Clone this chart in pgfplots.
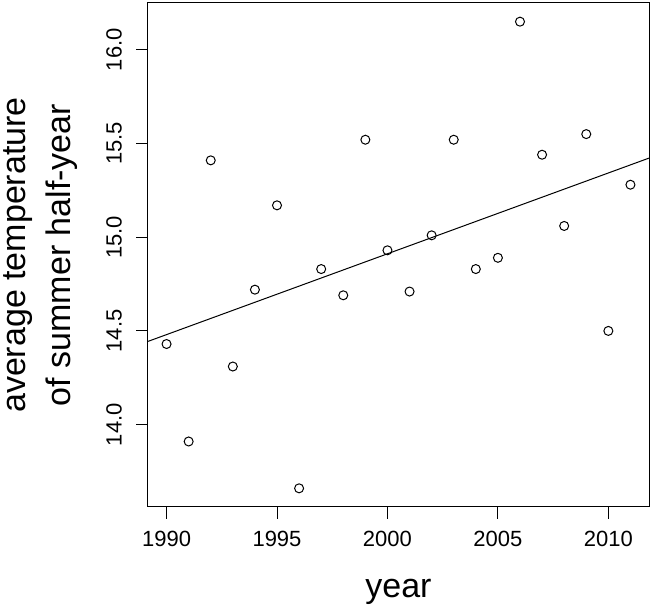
\documentclass[border=0pt]{standalone}
\usepackage{pgfplots}
\pgfplotsset{compat=1.18}
\usepackage{fontspec}
\setmainfont{Liberation Sans}
\pgfplotstableread{
year temp
1990 14.43
1991 13.91
1992 15.41
1993 14.31
1994 14.72
1995 15.17
1996 13.66
1997 14.83
1998 14.69
1999 15.52
2000 14.93
2001 14.71
2002 15.01
2003 15.52
2004 14.83
2005 14.89
2006 16.15
2007 15.44
2008 15.06
2009 15.55
2010 14.50
2011 15.28
}\temps
\begin{document}
\begin{tikzpicture}[x=1pt,y=1pt]
\useasboundingbox (0,0) rectangle (654,608);
\begin{axis}[
  at={(148pt,101pt)}, anchor=south west,
  scale only axis, width=501pt, height=504pt,
  xmin=1989.16, xmax=2011.84,
  ymin=13.5604, ymax=16.2496,
  xtick={1990,1995,2000,2005,2010},
  ytick={14,14.5,15,15.5,16},
  tick pos=left, tick align=outside,
  major tick length=12pt,
  axis line style={line width=1pt},
  every tick/.style={black, line width=1pt},
  /pgf/number format/assume math mode=true,
  xticklabel style={font=\fontsize{22}{26}\selectfont, /pgf/number format/set thousands separator={}},
  yticklabel style={font=\fontsize{22}{26}\selectfont, rotate=90, anchor=south,
     /pgf/number format/fixed, /pgf/number format/fixed zerofill, /pgf/number format/precision=1},
  xticklabel shift=8.7pt,
  yticklabel shift=10.7pt,
  xlabel={year},
  ylabel={average temperature\\of summer half-year},
  xlabel style={font=\fontsize{34}{41}\selectfont, at={(axis description cs:0.5,0)}, anchor=base, yshift=-90.3pt},
  ylabel style={font=\fontsize{34}{44.6}\selectfont, align=center, at={(axis description cs:-0.2144,0.5)}, anchor=center, rotate=0},
]
\addplot[only marks, mark=o, mark size=4.5pt, mark options={line width=1pt, black}] table[x=year, y=temp] {\temps};
\addplot[black, line width=1pt] coordinates {(1989.16,14.444) (2011.84,15.422)};
\end{axis}
\end{tikzpicture}
\end{document}
